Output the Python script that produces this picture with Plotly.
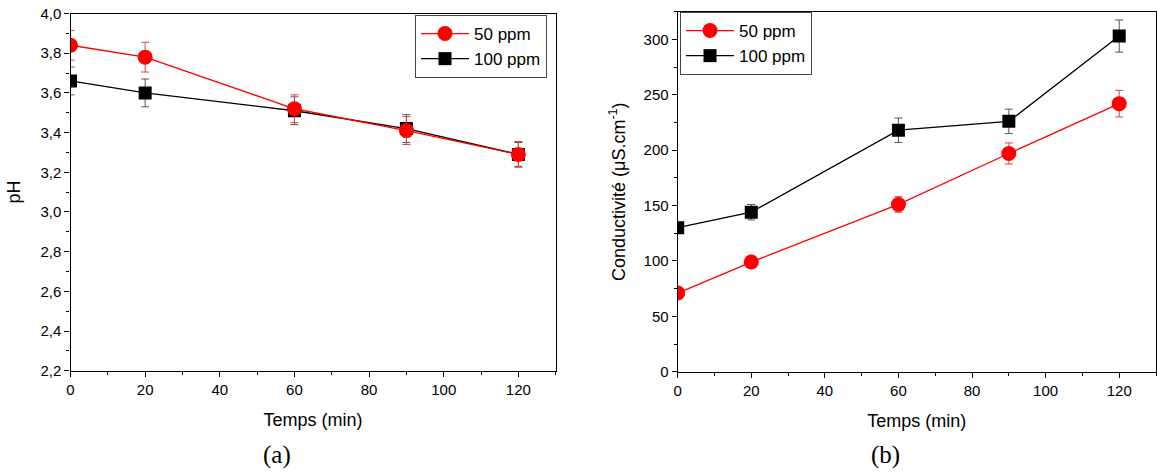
import plotly.graph_objects as go

# ---- data ----
temps = [0, 20, 60, 90, 120]

ph_50 = [3.84, 3.78, 3.52, 3.41, 3.29]
ph_50_err = [0.075, 0.075, 0.07, 0.07, 0.065]
ph_100 = [3.66, 3.60, 3.51, 3.42, 3.29]
ph_100_err = [0.07, 0.07, 0.07, 0.07, 0.06]

cond_50 = [71, 99, 151, 197, 242]
cond_50_err = [3, 3, 7, 9.5, 12]
cond_100 = [130, 144, 218, 226, 303]
cond_100_err = [5, 7, 11, 11, 14.5]

ph_ticks = [2.2, 2.4, 2.6, 2.8, 3.0, 3.2, 3.4, 3.6, 3.8, 4.0]
ph_ticklabels = ["2,2", "2,4", "2,6", "2,8", "3,0", "3,2", "3,4", "3,6", "3,8", "4,0"]

series_names = ["50 ppm", "100 ppm"]
RED = "#ff0000"
BLACK = "#000000"
SANS = "Liberation Sans, Arial"

W, H = 1157, 474


def px(x):
    return x / W


def py(y):
    return 1 - y / H


fig = go.Figure()


def add(x, y, err, name, color, ecolor, symbol, size, xa, ya, legend):
    fig.add_trace(go.Scatter(
        x=x, y=y, name=name, mode="lines+markers",
        line=dict(color=color, width=1.3),
        marker=dict(color=color, symbol=symbol, size=size),
        error_y=dict(type="data", array=err, visible=True, color=ecolor, thickness=1, width=4),
        xaxis=xa, yaxis=ya, legend=legend,
    ))


# black first so red drawn on top
add(temps, ph_100, ph_100_err, series_names[1], BLACK, "#555555", "square", 13, "x", "y", "legend")
add(temps, ph_50, ph_50_err, series_names[0], RED, "#e04040", "circle", 15, "x", "y", "legend")
add(temps, cond_100, cond_100_err, series_names[1], BLACK, "#555555", "square", 13, "x2", "y2", "legend2")
add(temps, cond_50, cond_50_err, series_names[0], RED, "#e04040", "circle", 15, "x2", "y2", "legend2")

axis_common = dict(
    showline=True, linecolor="black", linewidth=1.2, mirror=True,
    ticks="outside", ticklen=5, tickwidth=1, tickcolor="black",
    showgrid=False, zeroline=False, automargin=False,
    ticklabeloverflow="allow",
    tickfont=dict(family=SANS, size=15, color="black"),
    title_font=dict(family=SANS, size=18, color="black"),
)

legend_common = dict(
    xanchor="left", yanchor="top",
    bordercolor="#444444", borderwidth=1, bgcolor="white",
    font=dict(family=SANS, size=17, color="black"),
    traceorder="reversed", tracegroupgap=0, itemwidth=48,
)

fig.update_layout(
    width=W, height=H,
    margin=dict(l=0, r=0, t=0, b=0),
    paper_bgcolor="white", plot_bgcolor="white",
    font=dict(family=SANS, color="black"),
    xaxis=dict(axis_common, domain=[px(70.5), px(555.7)], range=[0, 130], dtick=20,
               minor=dict(ticks="outside", ticklen=3, dtick=10, tickcolor="black"),
               title=dict(text="Temps (min)", standoff=16), anchor="y"),
    yaxis=dict(axis_common, domain=[py(370.7), py(13.5)], range=[2.2, 4.0],
               tickmode="array", tickvals=ph_ticks, ticktext=ph_ticklabels,
               minor=dict(ticks="outside", ticklen=3, dtick=0.1, tick0=2.2, tickcolor="black"),
               title=dict(text="pH", standoff=15), anchor="x"),
    xaxis2=dict(axis_common, domain=[px(677.7), px(1156)], range=[0, 130], dtick=20,
                minor=dict(ticks="outside", ticklen=3, dtick=10, tickcolor="black"),
                title=dict(text="Temps (min)", standoff=16), anchor="y2"),
    yaxis2=dict(axis_common, domain=[py(371.7), py(11.7)], range=[0, 325], dtick=50,
                minor=dict(ticks="outside", ticklen=3, dtick=25, tickcolor="black"),
                title=dict(text="Conductivité (μS.cm<sup>-1</sup>)", standoff=13), anchor="x2"),
    legend=dict(legend_common, x=px(415), y=py(15)),
    legend2=dict(legend_common, x=px(680), y=py(12)),
    annotations=[
        dict(text="(a)", x=px(277), y=py(455), xref="paper", yref="paper",
             xanchor="center", yanchor="middle", showarrow=False,
             font=dict(family="Liberation Serif, Times New Roman", size=25, color="black")),
        dict(text="(b)", x=px(885), y=py(455), xref="paper", yref="paper",
             xanchor="center", yanchor="middle", showarrow=False,
             font=dict(family="Liberation Serif, Times New Roman", size=25, color="black")),
    ],
)

fig.write_html("out.html", config={"displayModeBar": False},
               post_script="document.body.style.margin='0';")
